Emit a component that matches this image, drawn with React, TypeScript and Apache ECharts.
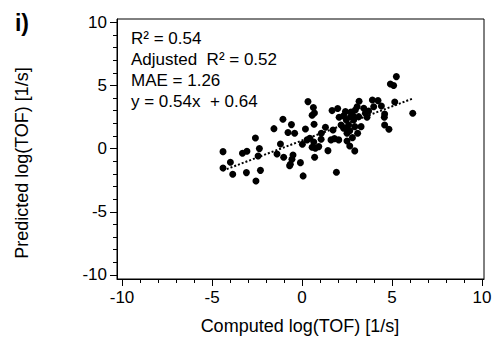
import React, { useEffect, useRef } from "react";
import * as echarts from "echarts";

// Computed log(TOF) values (x) and predicted log(TOF) values (y)
const computedValues = [
  -4.39, -4.39, -3.98, -3.85, -3.31, -3.06, -3.09, -2.59, -2.37, -2.44,
  -2.31, -2.56, -1.56, -1.2, -1.39, -1.06, -1.02, -0.59, -0.78, -0.41,
  -0.5, -0.56, -0.65, -0.69, -0.09, 0.06, 0.02, 0.19, 0.33, 0.63,
  0.69, 0.56, 0.67, 0.43, 0.28, 0.65, 0.56, 0.74, 0.93, 0.7,
  1.07, 1.06, 1.3, 1.44, 1.67, 1.98, 1.72, 1.61, 1.8, 2.04,
  1.91, 2.06, 2.17, 2.41, 2.46, 2.43, 2.5, 2.5, 2.69, 2.72,
  2.87, 2.65, 2.8, 2.93, 2.93, 3.06, 3.17, 3.09, 3.28, 3.43,
  3.52, 3.61, 3.7, 3.91, 3.98, 4.22, 4.41, 4.59, 4.57, 4.59,
  4.83, 4.91, 5.09, 5.24, 5.15, 6.15, 2.96, 2.31, 2.59, 2.83,
  2.31, 3.15, 2.65,
];
const predictedValues = [
  -0.24, -1.53, -1.08, -2.03, -0.37, -0.21, -1.9, 0.84, 0.0, -0.58,
  -1.72, -2.56, 1.58, 0.37, -0.42, 2.32, -0.69, 1.9, 1.27, 1.21,
  -0.5, -0.84, -1.24, -1.35, -1.11, -2.16, 0.34, 1.56, 3.72, 3.25,
  2.82, 2.64, 1.93, 0.82, 0.69, 0.53, 0.11, 0.03, 0.16, -0.69,
  1.21, 0.74, 1.69, -0.16, 3.01, 3.17, 1.48, 0.69, 0.79, 0.69,
  -1.87, 2.48, 1.87, 2.93, 2.27, 1.61, 1.21, 0.61, 2.53, 2.9,
  2.27, 0.21, 0.87, -0.18, 1.74, 3.32, 3.75, 1.21, 1.74, 3.19,
  2.8, 2.48, 2.98, 3.85, 3.32, 3.8, 3.38, 2.74, 2.48, 1.87,
  1.53, 5.12, 4.99, 5.7, 3.69, 2.8, 3.06, 1.61, 1.87, 2.59,
  2.59, 2.53, 1.42,
];

const fitSlope = 0.54;
const fitIntercept = 0.64;

const majorTicks = [-10, -5, 0, 5, 10];
const minorTicks = [-9, -8, -7, -6, -4, -3, -2, -1, 1, 2, 3, 4, 6, 7, 8, 9];

const statLines = [
  "R\u00b2 = 0.54",
  "Adjusted  R\u00b2 = 0.52",
  "MAE = 1.26",
  "y = 0.54x  + 0.64",
];

const panelLabel = "i)";
const xTitle = "Computed log(TOF) [1/s]";
const yTitle = "Predicted log(TOF) [1/s]";

const FONT = "'Liberation Sans', Arial, sans-serif";

export default function App() {
  const ref = useRef<HTMLDivElement>(null);

  useEffect(() => {
    if (!ref.current) return;
    const chart = echarts.init(ref.current, undefined, { renderer: "svg" });

    const points = computedValues.map((x, i) => [x, predictedValues[i]]);
    const xMinData = Math.min(...computedValues);
    const xMaxData = Math.max(...computedValues);
    const fitLine = [
      [xMinData, fitSlope * xMinData + fitIntercept],
      [xMaxData, fitSlope * xMaxData + fitIntercept],
    ];

    const xMin = -10.28;
    const xMax = 10.11;
    const yMin = -10.32;
    const yMax = 10.26;

    const majorAxis = (min: number, max: number, pos: string) => ({
      type: "value",
      min,
      max,
      position: pos,
      axisLine: { show: true, onZero: false, lineStyle: { color: "#000", width: 1 } },
      axisTick: {
        show: true,
        customValues: majorTicks,
        length: 7,
        lineStyle: { color: "#000", width: 1 },
      },
      axisLabel: {
        customValues: majorTicks,
        fontSize: 17,
        color: "#000",
        fontFamily: FONT,
        margin: 10,
        showMinLabel: true,
        showMaxLabel: true,
      },
      splitLine: { show: false },
    });
    const minorAxis = (min: number, max: number, pos: string) => ({
      type: "value",
      min,
      max,
      position: pos,
      axisLine: { show: false, onZero: false },
      axisTick: {
        show: true,
        customValues: minorTicks,
        length: 4,
        lineStyle: { color: "#000", width: 1 },
      },
      axisLabel: { show: false },
      splitLine: { show: false },
    });

    chart.setOption({
      animation: false,
      backgroundColor: "#fff",
      grid: {
        left: 117,
        right: 11,
        top: 19,
        bottom: 61,
        show: true,
        borderColor: "#000",
        borderWidth: 1,
        containLabel: false,
      },
      xAxis: [majorAxis(xMin, xMax, "bottom"), minorAxis(xMin, xMax, "bottom")],
      yAxis: [majorAxis(yMin, yMax, "left"), minorAxis(yMin, yMax, "left")],
      series: [
        {
          type: "scatter",
          xAxisIndex: 0,
          yAxisIndex: 0,
          data: points,
          symbol: "circle",
          symbolSize: 7,
          itemStyle: { color: "#000", opacity: 1 },
          silent: true,
        },
        {
          type: "line",
          xAxisIndex: 0,
          yAxisIndex: 0,
          data: fitLine,
          symbol: "none",
          lineStyle: { color: "#000", width: 2, type: [2, 2] },
          silent: true,
        },
      ],
      graphic: [
        ...statLines.map((t, i) => ({
          type: "text",
          x: 131,
          y: 38 + i * 21.3,
          style: {
            text: t,
            fontSize: 17,
            fontFamily: FONT,
            fill: "#000",
            verticalAlign: "middle",
            align: "left",
          },
        })),
        {
          type: "text",
          x: 22,
          y: 23,
          style: {
            text: panelLabel,
            fontSize: 23,
            fontWeight: "bold",
            fontFamily: FONT,
            fill: "#000",
            align: "center",
            verticalAlign: "middle",
          },
        },
        {
          type: "text",
          x: 300,
          y: 326,
          style: {
            text: xTitle,
            fontSize: 18,
            fontFamily: FONT,
            fill: "#000",
            align: "center",
            verticalAlign: "middle",
          },
        },
        {
          type: "text",
          x: 22,
          y: 163,
          rotation: Math.PI / 2,
          style: {
            text: yTitle,
            fontSize: 18,
            fontFamily: FONT,
            fill: "#000",
            align: "center",
            verticalAlign: "middle",
          },
        },
      ],
    });

    return () => chart.dispose();
  }, []);

  return (
    <div
      ref={ref}
      style={{ position: "absolute", left: 0, top: 0, width: 495, height: 340 }}
    />
  );
}
